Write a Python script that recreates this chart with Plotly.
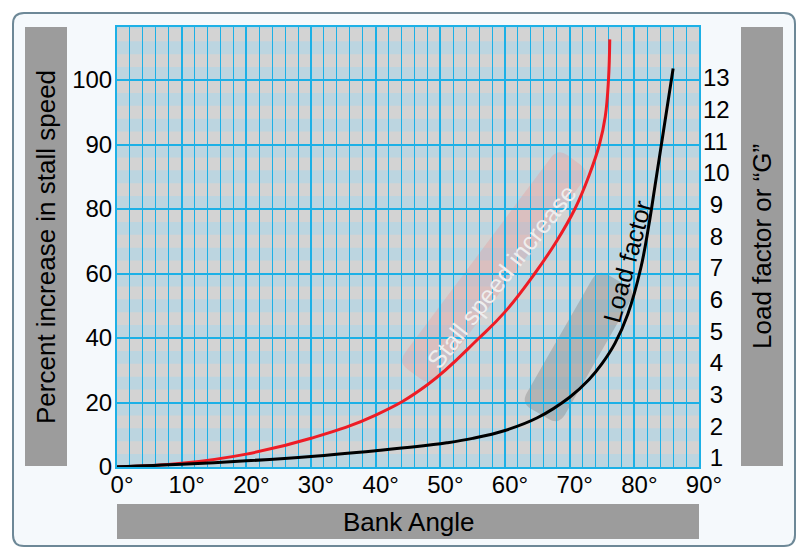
import numpy as np
import plotly.graph_objects as go

# bank angle (deg) vs percent increase in stall speed (red)
bank_stall = [0, 10, 20, 30, 40, 48, 56, 60, 64.6, 68, 70.8, 73, 74.6, 75.5, 76.0, 76.2]
stall_pct = [0, 1.15, 4.0, 8.9, 16.1, 25.5, 40, 48.1, 60, 70.1, 80, 85.2, 90, 94.3, 100, 106.3]

# bank angle (deg) vs load factor G (black)
bank_load = [0, 10, 20, 30, 40, 46.4, 51, 55, 60, 65, 70, 73, 75, 77, 79, 81, 82.2, 83.2, 86]
load_g = [0.72, 0.80, 0.91, 1.05, 1.23, 1.36, 1.48, 1.62, 1.87, 2.27, 2.92, 3.48, 3.98, 4.62, 5.55, 7.0, 8.3, 9.6, 13.3]

# left axis labels are not evenly spaced in value
left_ticks = [0, 20, 40, 60, 80, 90, 100]
right_ticks = list(range(1, 14))
x_ticks = list(range(0, 91, 10))

OFF = 8  # page body margin
W, H = 808 - OFF, 559 - OFF
L, R, T, B = 117, 699, 27, 467  # plot area, page pixels

GRID = "#1cb0e6"
BAND_GRAY = "#d3d3d3"
BAND_BLUE = "#bcd5e0"
PANEL = "#9c9c9c"


def to_pos(v):
    # map percent value onto evenly spaced tick positions
    pos = np.arange(len(left_ticks))
    v = np.asarray(v, dtype=float)
    out = np.interp(v, left_ticks, pos)
    hi = v > left_ticks[-1]
    out[hi] = pos[-1] + (v[hi] - left_ticks[-1]) / (left_ticks[-1] - left_ticks[-2])
    return out


def pp(x, y):
    # page pixel -> paper coords
    return (x - L) / (R - L), (B - y) / (B - T)


def rounded_path(corners, r):
    n = len(corners)
    c = [np.array(p, dtype=float) for p in corners]
    pin, pout = [], []
    for i in range(n):
        prev, nxt = c[i - 1], c[(i + 1) % n]
        d1 = (prev - c[i]) / np.linalg.norm(prev - c[i])
        d2 = (nxt - c[i]) / np.linalg.norm(nxt - c[i])
        pin.append(c[i] + d1 * r)
        pout.append(c[i] + d2 * r)
    fmt = lambda p: "%.5f,%.5f" % pp(*p)
    s = "M " + fmt(pout[0])
    for i in list(range(1, n)) + [0]:
        s += " L " + fmt(pin[i]) + " Q " + fmt(c[i]) + " " + fmt(pout[i])
    return s + " Z"


def band(p1, p2, w, r):
    p1, p2 = np.array(p1, float), np.array(p2, float)
    u = (p2 - p1) / np.linalg.norm(p2 - p1)
    nrm = np.array([-u[1], u[0]]) * w / 2
    return rounded_path([p1 + nrm, p2 + nrm, p2 - nrm, p1 - nrm], r)


step = 64.5  # pixels between left-axis labels
y_top = (B - T) / step
y2_per = 31.67
y2_range = [1 - (B - 458) / y2_per, 13 + (78 - T) / y2_per]

fig = go.Figure()

fig.add_trace(go.Scatter(x=bank_stall, y=to_pos(stall_pct), mode="lines",
                         line=dict(color="#ee1c25", width=3, shape="spline", smoothing=1.2),
                         showlegend=False, hoverinfo="skip"))
fig.add_trace(go.Scatter(x=bank_load, y=load_g, mode="lines", yaxis="y2",
                         line=dict(color="black", width=3, shape="spline", smoothing=1.1),
                         showlegend=False, hoverinfo="skip"))

shapes = []
# outer frame
shapes.append(dict(type="path", xref="paper", yref="paper", layer="below",
                   path=rounded_path([(13, 13), (795, 13), (795, 546), (13, 546)], 11),
                   fillcolor="#f5f9fc", line=dict(color="#6d8897", width=2)))
# plot background + stripes
shapes.append(dict(type="rect", xref="paper", yref="paper", layer="below",
                   x0=0, x1=1, y0=0, y1=1, fillcolor=BAND_GRAY, line=dict(width=0)))
for i in range(0, 35, 2):
    shapes.append(dict(type="rect", xref="paper", yref="y", layer="below",
                       x0=0, x1=1, y0=i * 0.2, y1=min((i + 1) * 0.2, y_top),
                       fillcolor=BAND_BLUE, line=dict(width=0)))
# side panels
for (x0, y0, x1, y1) in [(25, 27, 67, 466), (741, 27, 783, 466), (117, 504, 699, 539)]:
    a, b = pp(x0, y1)
    c, d = pp(x1, y0)
    shapes.append(dict(type="rect", xref="paper", yref="paper", layer="below",
                       x0=a, y0=b, x1=c, y1=d, fillcolor=PANEL, line=dict(width=0)))
# translucent highlight bands under the curve labels
shapes.append(dict(type="path", xref="paper", yref="paper", layer="between",
                   path=band((414, 374), (574, 160), 40, 12),
                   fillcolor="rgba(232,150,150,0.32)", line=dict(width=0)))
shapes.append(dict(type="path", xref="paper", yref="paper", layer="between",
                   path=band((540, 414), (617, 280), 44, 12),
                   fillcolor="rgba(110,110,110,0.3)", line=dict(width=0)))

font = "Liberation Sans, Arial, sans-serif"
annotations = []
for text, (px, py), ang, size, col in [
    ("Percent increase in stall speed", (46, 247), -90, 26, "black"),
    ("Load factor or \u201cG\u201d", (762, 247), -90, 26, "black"),
    ("Bank Angle", (409, 522), 0, 26, "black"),
    ("Stall speed increase", (501, 277), -52, 25, "#eeeeee"),
    ("Load factor", (627, 262), -75, 25, "black"),
]:
    ax_, ay_ = pp(px, py)
    annotations.append(dict(text=text, x=ax_, y=ay_, xref="paper", yref="paper",
                            showarrow=False, textangle=ang, xanchor="center", yanchor="middle",
                            font=dict(family=font, size=size, color=col)))

fig.update_layout(
    width=W, height=H,
    margin=dict(l=L - OFF, r=W - (R - OFF), t=T - OFF, b=H - (B - OFF), autoexpand=False),
    paper_bgcolor="white", plot_bgcolor="rgba(0,0,0,0)",
    font=dict(family=font, size=24, color="black"),
    shapes=shapes, annotations=annotations,
    xaxis=dict(range=[0, 90], tickvals=x_ticks, ticktext=["%d\u00b0" % t for t in x_ticks],
               showgrid=True, gridcolor=GRID, gridwidth=2,
               minor=dict(dtick=2, tick0=0, showgrid=True, gridcolor=GRID, gridwidth=1),
               showline=True, mirror=True, linecolor=GRID, linewidth=2,
               zeroline=False, ticks="", ticklabelshift=5, ticklabelstandoff=-5),
    yaxis=dict(range=[0, y_top], tickvals=list(range(len(left_ticks))),
               ticktext=[str(t) for t in left_ticks],
               showgrid=True, gridcolor=GRID, gridwidth=2,
               showline=True, mirror=True, linecolor=GRID, linewidth=2,
               zeroline=False, ticks="", ticklabelstandoff=-2),
    yaxis2=dict(range=y2_range, overlaying="y", side="right",
                tickvals=right_ticks,
                ticktext=[("\u00a0" + str(t)) if t < 10 else str(t) for t in right_ticks],
                showgrid=False, zeroline=False, ticks="", ticklabelstandoff=3),
)

fig.write_html("out.html")
